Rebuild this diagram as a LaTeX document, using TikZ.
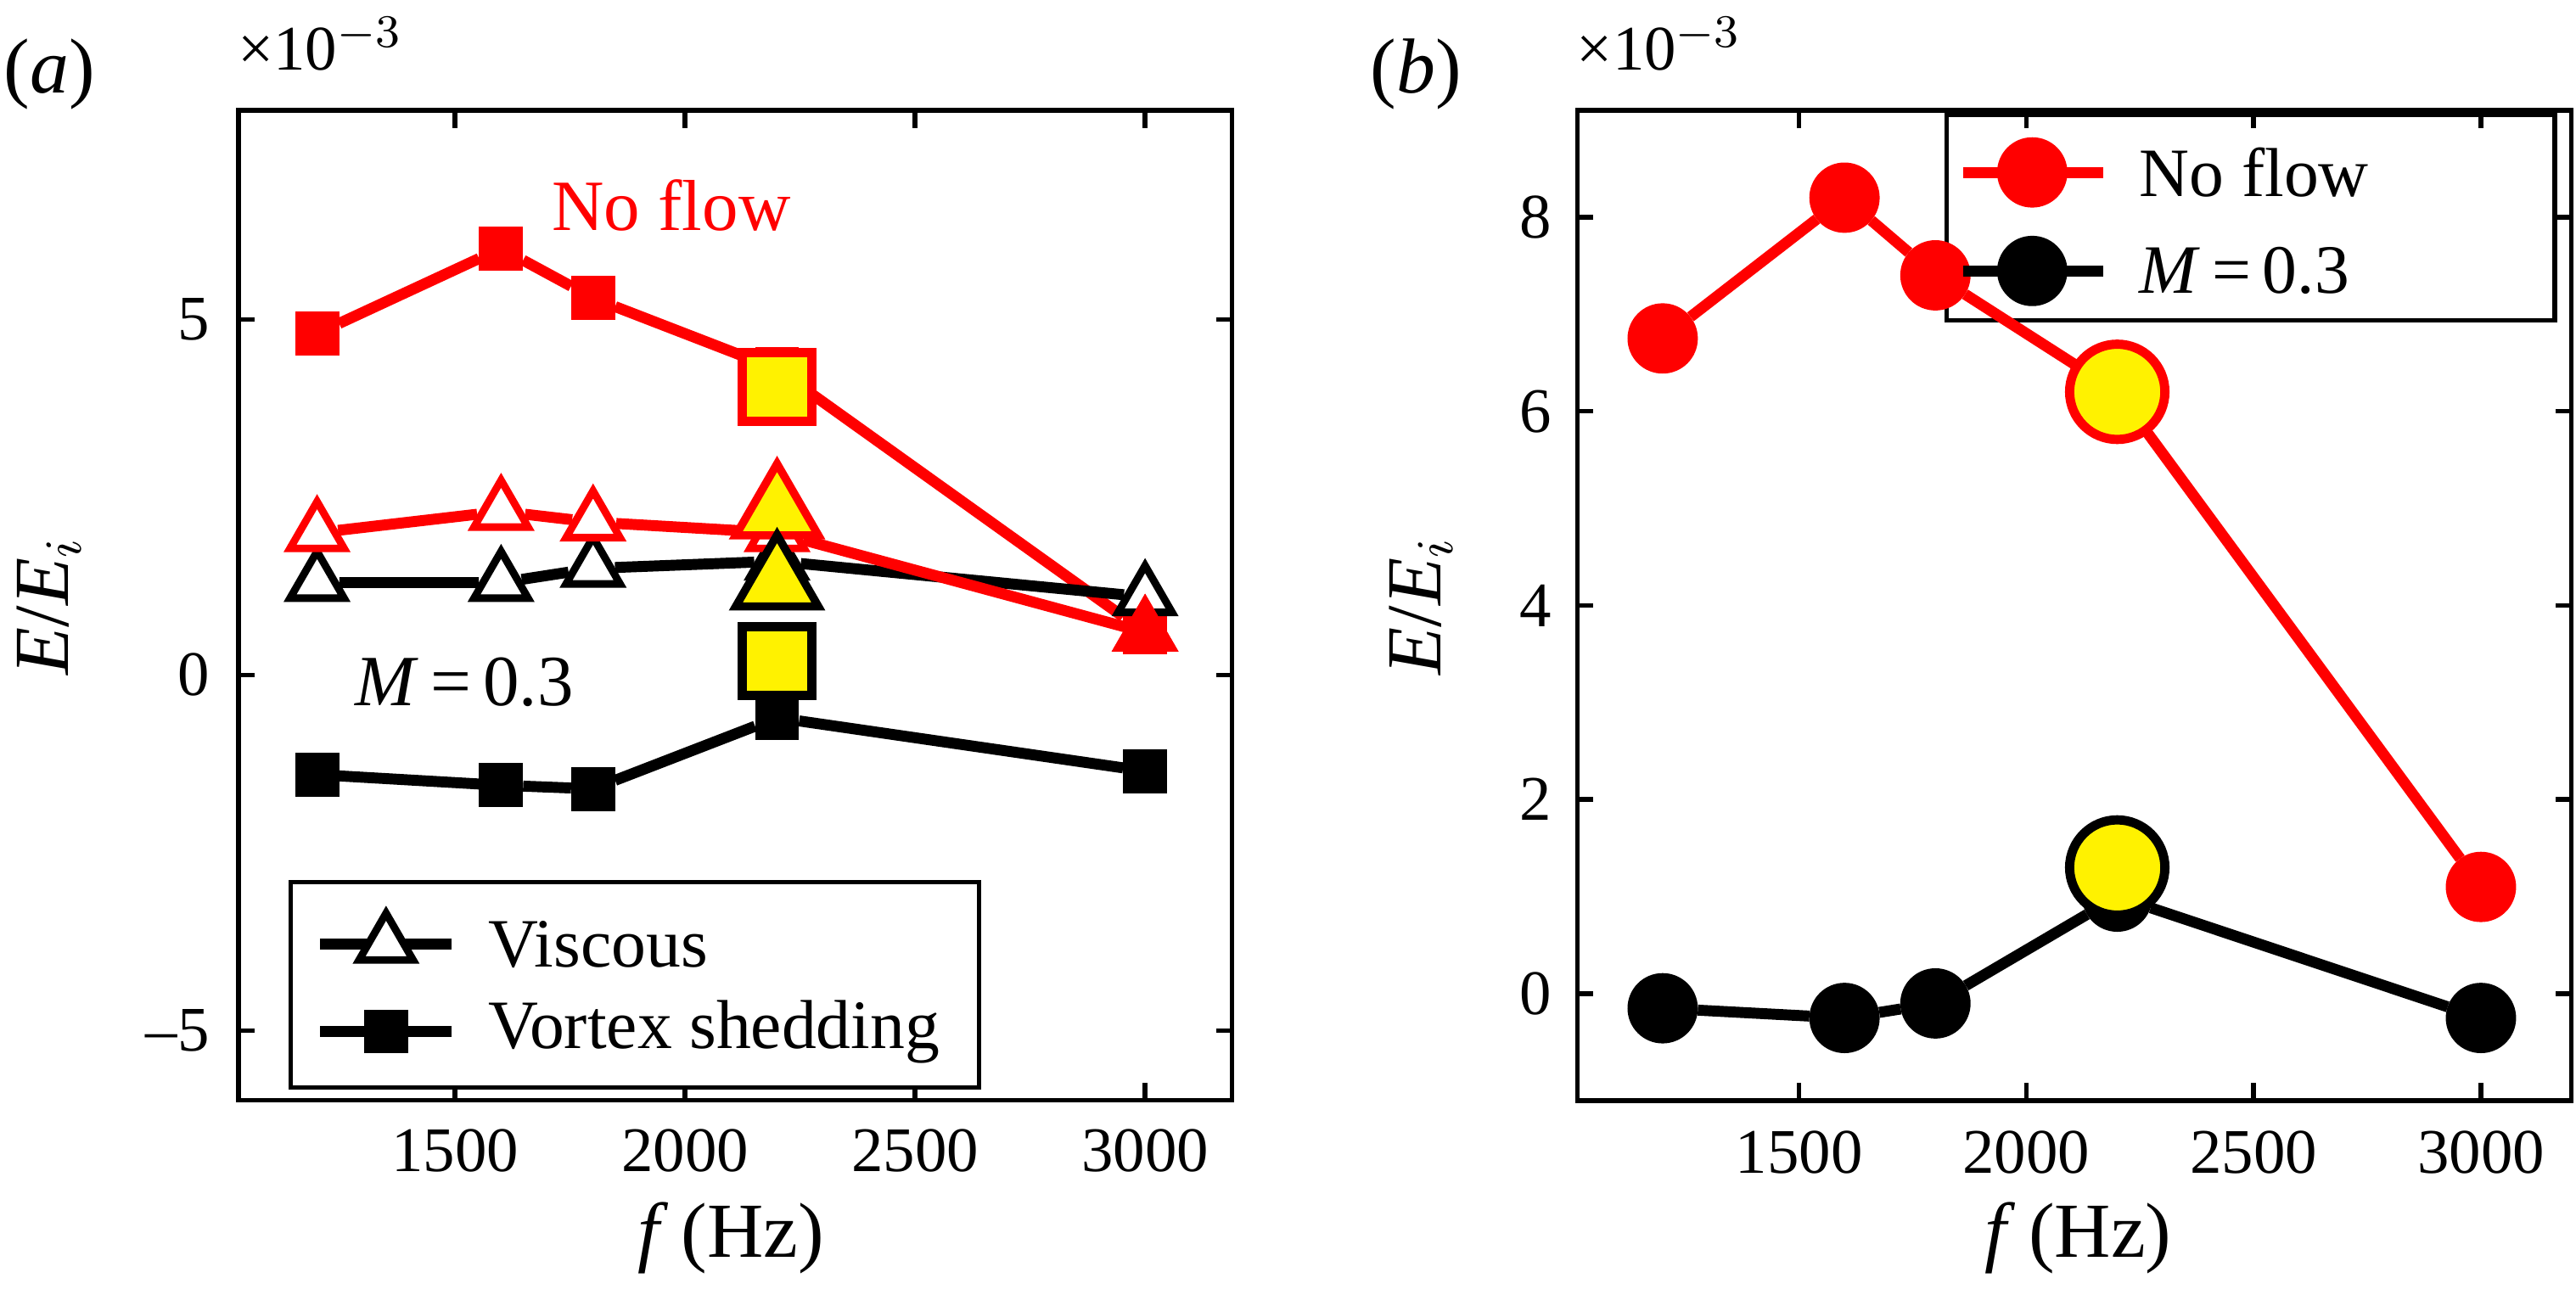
\documentclass[tikz,border=0pt]{standalone}
\usepackage{fontspec}
\setmainfont{Liberation Serif}
\usetikzlibrary{shapes.geometric}
\tikzset{
  ln/.style={line width=1.9pt, line join=round},
  sq/.style={draw, rectangle, minimum size=0.24cm, inner sep=0pt, line width=0.8pt},
  bigsq/.style={draw, rectangle, minimum size=0.42cm, inner sep=0pt, line width=1.6pt, fill=yellow},
  tri/.style={draw, regular polygon, regular polygon sides=3, minimum size=0.38cm, inner sep=0pt, line width=1.3pt, fill=white},
  bigtri/.style={draw, regular polygon, regular polygon sides=3, minimum size=0.58cm, inner sep=0pt, line width=1.4pt, fill=yellow},
  dot/.style={draw, circle, minimum size=0.40cm, inner sep=0pt, line width=0.8pt},
  bigdot/.style={draw, circle, minimum size=0.58cm, inner sep=0pt, line width=1.6pt, fill=yellow},
  tick/.style={font=\fontsize{11}{13}\selectfont},
  lab/.style={font=\fontsize{13.5}{16}\selectfont},
  leg/.style={font=\fontsize{12}{14}\selectfont, anchor=west}
}
\begin{document}
\begin{tikzpicture}
\useasboundingbox (0,7.44) rectangle (15.68,15.39);
% panel a
\node[lab] (pa) at (0.3,14.94) {(\textit{a})};
\node[tick] (ea) at (1.95,15.12) {×10$^{-3}$};
\node[lab, rotate=90] (ya) at (0.3,11.7) {\textit{E}/\textit{E}$_i$};
\node[lab] (xa) at (4.45,7.85) {\textit{f}\,(Hz)};
\begin{scope}[shift={(-1.43,11.28)}, xscale=0.28, yscale=0.433]
  \draw[line width=0.8pt] (10.29,-5.98) rectangle (31.89,7.94);
  \foreach \x in {15,20,25,30} {
    \draw[line width=0.8pt] (\x,-5.98) -- ++(0,0.25) (\x,7.94) -- ++(0,-0.25);
    \node[tick, below] at (\x,-6.1) {\x00};
  }
  \foreach \y/\t in {-5/–5,0/0,5/5} {
    \draw[line width=0.8pt] (10.29,\y) -- ++(0.35,0) (31.89,\y) -- ++(-0.35,0);
    \node[tick, left] at (10.1,\y) {\t};
  }
  % black vortex shedding
  \foreach \i/\x/\y in {1/12/-1.4,2/16/-1.55,3/18/-1.6,4/22/-0.6,5/30/-1.35}
    \node[sq, fill=black] (ks\i) at (\x,\y) {};
  \draw[ln] (ks1) -- (ks2) -- (ks3) -- (ks4) -- (ks5);
  % red vortex shedding
  \foreach \i/\x/\y in {1/12/4.8,2/16/6.0,3/18/5.3,4/22/4.3,5/30/0.6}
    \node[sq, draw=red, fill=red] (rs\i) at (\x,\y) {};
  \draw[ln, red] (rs1) -- (rs2) -- (rs3) -- (rs4) -- (rs5);
  % black viscous
  \foreach \i/\x/\y in {1/12/1.3,2/16/1.3,3/18/1.5,4/22/1.6,5/30/1.1}
    \node[tri] (kt\i) at (\x,\y) {};
  \draw[ln] (kt1) -- (kt2) -- (kt3) -- (kt4) -- (kt5);
  % red viscous
  \foreach \i/\x/\y in {1/12/2.0,2/16/2.3,3/18/2.15,4/22/2.0,5/30/0.6}
    \node[tri, draw=red] (rt\i) at (\x,\y) {};
  \draw[ln, red] (rt1) -- (rt2) -- (rt3) -- (rt4) -- (rt5);
  \node[tri, draw=red, fill=red] (rt6) at (30,0.6) {};
  % highlighted points
  \node[bigsq, draw=red] (ys1) at (22,4.05) {};
  \node[bigtri, draw=red] (yt1) at (22,2.3) {};
  \node[bigtri] (yt2) at (22,1.3) {};
  \node[bigsq] (ys2) at (22,0.2) {};
  \node[font=\fontsize{12.5}{15}\selectfont, text=red] (nfa) at (19.7,6.6) {No flow};
  \node[font=\fontsize{12.5}{15}\selectfont] (ma) at (15.2,-0.1) {\textit{M}\,=\,0.3};
\end{scope}
\draw[line width=0.8pt, fill=white] (1.77,8.77) rectangle (5.96,10.02);
\coordinate (la1) at (1.95,9.64); \coordinate (la2) at (2.75,9.64);
\draw[ln] (la1) -- (la2);
\node[tri] (lta) at (2.35,9.64) {};
\node[leg] (lva) at (2.85,9.64) {Viscous};
\coordinate (lb1) at (1.95,9.11); \coordinate (lb2) at (2.75,9.11);
\draw[ln] (lb1) -- (lb2);
\node[sq, fill=black] (lsa) at (2.35,9.11) {};
\node[leg] (lvb) at (2.85,9.11) {Vortex shedding};
% panel b
\node[lab] (pb) at (8.62,14.94) {(\textit{b})};
\node[tick] (eb) at (10.1,15.12) {×10$^{-3}$};
\node[lab, rotate=90] (yb) at (8.65,11.7) {\textit{E}/\textit{E}$_i$};
\node[lab] (xb) at (12.65,7.85) {\textit{f}\,(Hz)};
\draw[line width=0.8pt, fill=white] (11.85,13.44) rectangle (15.55,14.69);
\begin{scope}[shift={(6.80,9.34)}, xscale=0.2767, yscale=0.591]
  \draw[line width=0.8pt] (10.12,-1.10) rectangle (31.99,9.10);
  \foreach \x in {15,20,25,30} {
    \draw[line width=0.8pt] (\x,-1.10) -- ++(0,0.18) (\x,9.10) -- ++(0,-0.18);
    \node[tick, below] at (\x,-1.2) {\x00};
  }
  \foreach \y in {0,2,4,6,8} {
    \draw[line width=0.8pt] (10.12,\y) -- ++(0.35,0) (31.99,\y) -- ++(-0.35,0);
    \node[tick, left] at (10.0,\y) {\y};
  }
  \foreach \i/\x/\y in {1/12/-0.15,2/16/-0.25,3/18/-0.1,4/22/1.0,5/30/-0.25}
    \node[dot, fill=black] (kc\i) at (\x,\y) {};
  \draw[ln] (kc1) -- (kc2) -- (kc3) -- (kc4) -- (kc5);
  \foreach \i/\x/\y in {1/12/6.75,2/16/8.2,3/18/7.4,4/22/6.2,5/30/1.1}
    \node[dot, draw=red, fill=red] (rc\i) at (\x,\y) {};
  \draw[ln, red] (rc1) -- (rc2) -- (rc3) -- (rc4) -- (rc5);
  \node[bigdot, draw=red] (yc1) at (22,6.2) {};
  \node[bigdot] (yc2) at (22,1.3) {};
\end{scope}
\coordinate (lc1) at (11.95,14.34); \coordinate (lc2) at (12.80,14.34);
\draw[ln, red] (lc1) -- (lc2);
\node[dot, draw=red, fill=red] (lcr) at (12.37,14.34) {};
\node[leg] (lnf) at (12.90,14.34) {No flow};
\coordinate (ld1) at (11.95,13.74); \coordinate (ld2) at (12.80,13.74);
\draw[ln] (ld1) -- (ld2);
\node[dot, fill=black] (lck) at (12.37,13.74) {};
\node[leg] (lm) at (12.90,13.74) {\textit{M}\,=\,0.3};
\end{tikzpicture}
\end{document}
